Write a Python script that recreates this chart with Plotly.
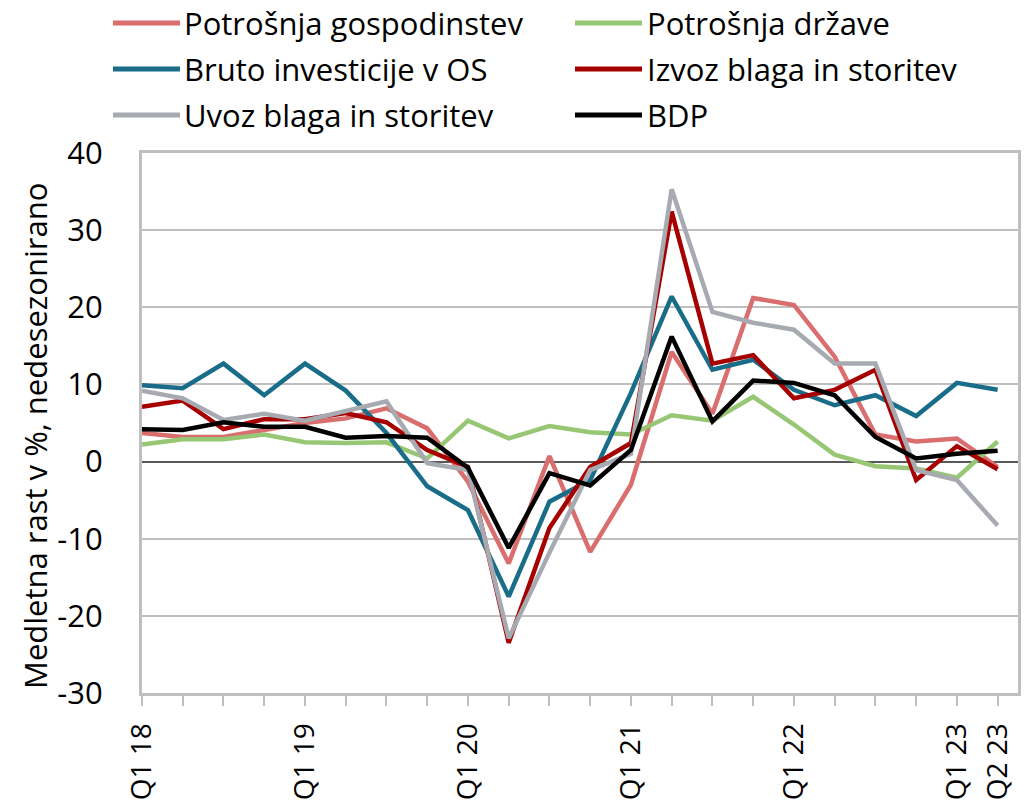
import plotly.graph_objects as go

quarters = ["Q1 18", "Q2 18", "Q3 18", "Q4 18",
            "Q1 19", "Q2 19", "Q3 19", "Q4 19",
            "Q1 20", "Q2 20", "Q3 20", "Q4 20",
            "Q1 21", "Q2 21", "Q3 21", "Q4 21",
            "Q1 22", "Q2 22", "Q3 22", "Q4 22",
            "Q1 23", "Q2 23"]
tick_labels = ["Q1 18", "Q1 19", "Q1 20", "Q1 21", "Q1 22", "Q1 23", "Q2 23"]
y_tick_values = [-30, -20, -10, 0, 10, 20, 30, 40]
y_tick_labels = ["-30", "-20", "-10", "0", "10", "20", "30", "40"]

potrosnja_gospodinjstev = [3.7, 3.2, 3.2, 4.1, 5.0, 5.6, 6.9, 4.3, -2.6, -13.2, 0.7, -11.7,
                           -3.0, 14.2, 6.2, 21.2, 20.3, 13.6, 3.5, 2.6, 3.0, -0.7]
potrosnja_drzave = [2.2, 2.9, 2.9, 3.5, 2.5, 2.4, 2.5, 0.4, 5.3, 3.0, 4.6, 3.8,
                    3.5, 6.0, 5.3, 8.4, 4.8, 0.9, -0.6, -0.9, -2.1, 2.6]
bruto_investicije = [9.9, 9.5, 12.7, 8.6, 12.7, 9.2, 3.7, -3.2, -6.3, -17.5, -5.2, -2.4,
                     8.9, 21.4, 11.9, 13.2, 9.3, 7.3, 8.6, 5.9, 10.2, 9.3]
izvoz = [7.1, 7.9, 4.2, 5.5, 5.5, 6.3, 5.1, 1.5, -0.7, -23.5, -8.6, -0.7,
         2.4, 32.4, 12.7, 13.8, 8.2, 9.3, 11.9, -2.4, 2.0, -1.0]
uvoz = [9.2, 8.2, 5.4, 6.2, 5.3, 6.5, 7.8, -0.2, -1.1, -22.9, -11.8, -1.1,
        1.0, 35.3, 19.4, 18.0, 17.1, 12.7, 12.7, -1.1, -2.4, -8.3]
bdp = [4.2, 4.1, 5.1, 4.5, 4.5, 3.1, 3.3, 3.1, -0.8, -11.2, -1.5, -3.1,
       1.5, 16.2, 5.2, 10.5, 10.2, 8.6, 3.2, 0.4, 1.0, 1.4]

series_names = ["Potrošnja gospodinstev", "Potrošnja države", "Bruto investicije v OS",
                "Izvoz blaga in storitev", "Uvoz blaga in storitev", "BDP"]
series_values = [potrosnja_gospodinjstev, potrosnja_drzave, bruto_investicije,
                 izvoz, uvoz, bdp]
colors = ["#DA6D6D", "#97C774", "#1A6D89", "#A60000", "#A7ABB1", "#000000"]
y_title = "Medletna rast v %, nedesezonirano"

x_idx = list(range(len(quarters)))
tick_idx = [quarters.index(t) for t in tick_labels]

FONT = "Open Sans"
FS = 31
FS_X = 28

fig = go.Figure()
for name, vals, col in zip(series_names, series_values, colors):
    fig.add_trace(go.Scatter(
        x=x_idx, y=vals, mode="lines", name=name,
        line=dict(color=col, width=4.5), showlegend=False,
        hovertext=quarters,
    ))

W, H = 1033, 801
PLOT_L, PLOT_R, PLOT_T, PLOT_B = 142, 1018, 153, 693  # pixel box of plot area
L, T = PLOT_L, PLOT_T
R, B = W - PLOT_R, H - PLOT_B


def px2paper(px, py):
    return (px - PLOT_L) / (PLOT_R - PLOT_L), (PLOT_B - py) / (PLOT_B - PLOT_T)


# manual legend (2 columns x 3 rows)
legend_cols = [(113, 180, 183), (575, 642, 646)]
legend_rows = [23, 69, 115]
shapes = []
annotations = []
for i, (name, col) in enumerate(zip(series_names, colors)):
    r, c = divmod(i, 2)
    lx0, lx1, tx = legend_cols[c]
    ly = legend_rows[r]
    x0, y0 = px2paper(lx0, ly)
    x1, _ = px2paper(lx1, ly)
    shapes.append(dict(type="line", xref="paper", yref="paper", x0=x0, x1=x1, y0=y0, y1=y0,
                       line=dict(color=col, width=5)))
    tx_p, ty_p = px2paper(tx, ly)
    annotations.append(dict(xref="paper", yref="paper", x=tx_p, y=ty_p, text=name,
                            showarrow=False, xanchor="left", yanchor="middle", borderpad=0,
                            font=dict(family=FONT, size=FS, color="#000000")))

# y-axis title as rotated annotation
tx_p, ty_p = px2paper(35, 436)
annotations.append(dict(xref="paper", yref="paper", x=tx_p, y=ty_p, text=y_title,
                        textangle=-90, showarrow=False, xanchor="center", yanchor="middle",
                        font=dict(family=FONT, size=FS, color="#000000")))

fig.update_layout(
    width=W, height=H,
    margin=dict(l=L, r=R, t=T, b=B, autoexpand=False),
    paper_bgcolor="white", plot_bgcolor="white",
    font=dict(family=FONT, size=FS, color="#000000"),
    shapes=shapes, annotations=annotations,
    showlegend=False,
)
fig.update_xaxes(
    range=[0, 21.5], tickmode="array", tickvals=tick_idx, ticktext=tick_labels,
    tickangle=-90, ticks="outside", ticklen=10, tickwidth=2, tickcolor="#BFBFBF",
    ticklabelstandoff=6,
    minor=dict(ticks="outside", dtick=1, tick0=0, ticklen=10, tickwidth=2, tickcolor="#BFBFBF",
               showgrid=False),
    showgrid=False, showline=True, linecolor="#BFBFBF", linewidth=3, mirror=True,
    zeroline=False, tickfont=dict(family=FONT, size=FS_X, color="#000000"),
)
fig.update_yaxes(
    range=[-30, 40], tickmode="array", tickvals=y_tick_values, ticktext=y_tick_labels,
    showgrid=True, gridcolor="#BFBFBF", gridwidth=2,
    zeroline=True, zerolinecolor="#595959", zerolinewidth=2,
    showline=True, linecolor="#BFBFBF", linewidth=3, mirror=True,
    ticks="", ticklabelstandoff=30, tickfont=dict(family=FONT, size=FS, color="#000000"),
)

fig.write_html("out.html", config={"displayModeBar": False},
               post_script="document.body.style.margin='0px';document.body.style.overflow='hidden';")
